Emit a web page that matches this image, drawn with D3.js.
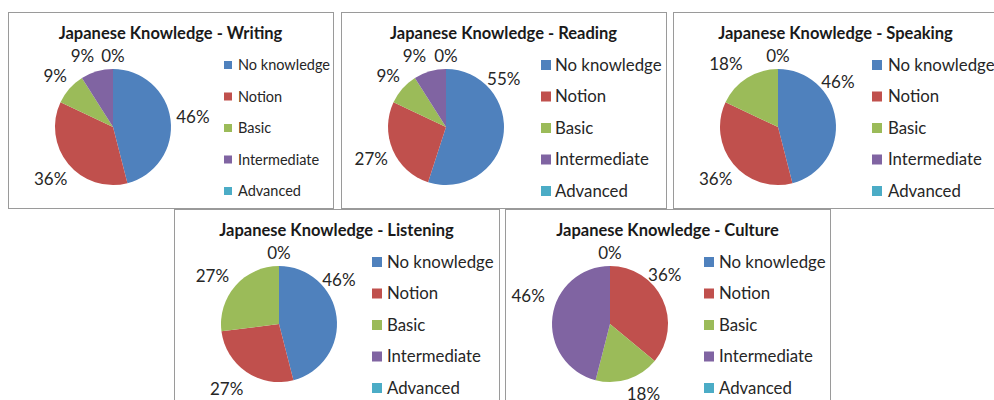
<!DOCTYPE html>
<html lang="en">
	<head>
		<meta charset="utf-8">
		<title>Japanese Knowledge - pies</title>
		<script type="text/javascript" src="https://cdn.jsdelivr.net/npm/d3@7"></script>
		<style type="text/css">
			body { margin: 0; background: #fff; }
			svg { display: block; }
		</style>
	</head>
	<body>
		<script type="text/javascript">

			//Width and height
			var w = 994;
			var h = 400;

			//Data
			var categories = ["No knowledge", "Notion", "Basic", "Intermediate", "Advanced"];
			var chartTitles = ["Japanese Knowledge - Writing", "Japanese Knowledge - Reading",
				"Japanese Knowledge - Speaking", "Japanese Knowledge - Listening",
				"Japanese Knowledge - Culture"];
			var writing   = [46, 36, 9, 9, 0];
			var reading   = [55, 27, 9, 9, 0];
			var speaking  = [46, 36, 18, 0, 0];
			var listening = [46, 27, 27, 0, 0];
			var culture   = [0, 36, 18, 46, 0];

			var colors = ["#4F81BD", "#C0504D", "#9BBB59", "#8064A2", "#4BACC6"];

			//Panel boxes (layout only)
			var panels = [
				{ x: 8,   y: 12,  values: writing,   legendFont: 14.5, sq: 8,  legX: 216, legText: 230 },
				{ x: 341, y: 12,  values: reading,   legendFont: 16.8, sq: 10, legX: 200, legText: 214 },
				{ x: 673, y: 12,  values: speaking,  legendFont: 16.8, sq: 10, legX: 199, legText: 215 },
				{ x: 174, y: 209, values: listening, legendFont: 16.8, sq: 10, legX: 198, legText: 213 },
				{ x: 505, y: 209, values: culture,   legendFont: 16.8, sq: 10, legX: 199, legText: 214 }
			];
			var panelW = 325, panelH = 196;
			var radius = 58;

			//labels the author dragged by hand in the original, [dx, dy]
			var labelShift = [
				{ 3: [-10, 0] },
				{ 0: [-22, -61], 3: [-11, 0] },
				{ 0: [-20, -35], 2: [-10, 3] },
				{ 0: [-20, -34], 1: [-8, 0], 2: [-6, 5] },
				{ 1: [-19, -14], 2: [10, -2], 3: [-2, -18] }
			];

			var colorScale = d3.scaleOrdinal().domain(categories).range(colors);
			var legendScale = d3.scalePoint().domain(categories).range([53, 179]);

			var pie = d3.pie().sort(null).value(function(d) { return d.value; });
			var arc = d3.arc().innerRadius(0).outerRadius(radius);

			var font = "Lato, 'Open Sans', sans-serif";

			//Create SVG element
			var svg = d3.select("body")
						.append("svg")
						.attr("width", w)
						.attr("height", h);

			panels.forEach(function(p, pi) {
				var g = svg.append("g")
					.attr("transform", "translate(" + p.x + "," + p.y + ")");

				g.append("rect")
					.attr("x", 0.5)
					.attr("y", 0.5)
					.attr("width", panelW)
					.attr("height", panelH)
					.attr("fill", "#fff")
					.attr("stroke", "#9a9a9a")
					.attr("stroke-width", 1);

				g.append("text")
					.text(chartTitles[pi])
					.attr("x", panelW / 2)
					.attr("y", 27)
					.attr("text-anchor", "middle")
					.attr("font-family", font)
					.attr("font-weight", "bold")
					.attr("font-size", "16.5px")
					.attr("fill", "#1a1a1a");

				var rows = categories.map(function(c, i) { return { cat: c, value: p.values[i] }; });
				var arcs = pie(rows);

				var pieG = g.append("g")
					.attr("transform", "translate(105,115)");

				pieG.selectAll("path")
					.data(arcs)
					.enter()
					.append("path")
					.attr("d", arc)
					.attr("fill", function(d) { return colorScale(d.data.cat); });

				//outside-end labels, one per angle for zero slices
				var seen = {};
				arcs.forEach(function(d, i) {
					var mid = (d.startAngle + d.endAngle) / 2;
					var key = (mid % (2 * Math.PI)).toFixed(3);
					if (d.data.value === 0 && seen[key]) return;
					seen[key] = true;

					var t = pieG.append("text")
						.text(d.data.value + "%")
						.attr("text-anchor", "middle")
						.attr("dy", "0.35em")
						.attr("font-family", font)
						.attr("font-size", "17px")
						.attr("fill", "#262626");

					var tw = t.node().getComputedTextLength();
					var dx = Math.sin(mid), dy = -Math.cos(mid);
					var dist = radius + 5 + Math.abs(dx) * tw / 2 + Math.abs(dy) * 8;
					var shift = labelShift[pi][i] || [0, 0];
					t.attr("x", dx * dist + shift[0])
					 .attr("y", dy * dist + shift[1]);
				});

				//Legend
				var leg = g.selectAll("g.legend")
					.data(categories)
					.enter()
					.append("g")
					.attr("class", "legend")
					.attr("transform", function(d) { return "translate(0," + legendScale(d) + ")"; });

				leg.append("rect")
					.attr("x", p.legX)
					.attr("y", -p.sq / 2)
					.attr("width", p.sq)
					.attr("height", p.sq)
					.attr("fill", function(d) { return colorScale(d); });

				leg.append("text")
					.text(function(d) { return d; })
					.attr("x", p.legText)
					.attr("dy", "0.35em")
					.attr("font-family", font)
					.attr("font-size", p.legendFont + "px")
					.attr("fill", "#262626");
			});

		</script>
	</body>
</html>
